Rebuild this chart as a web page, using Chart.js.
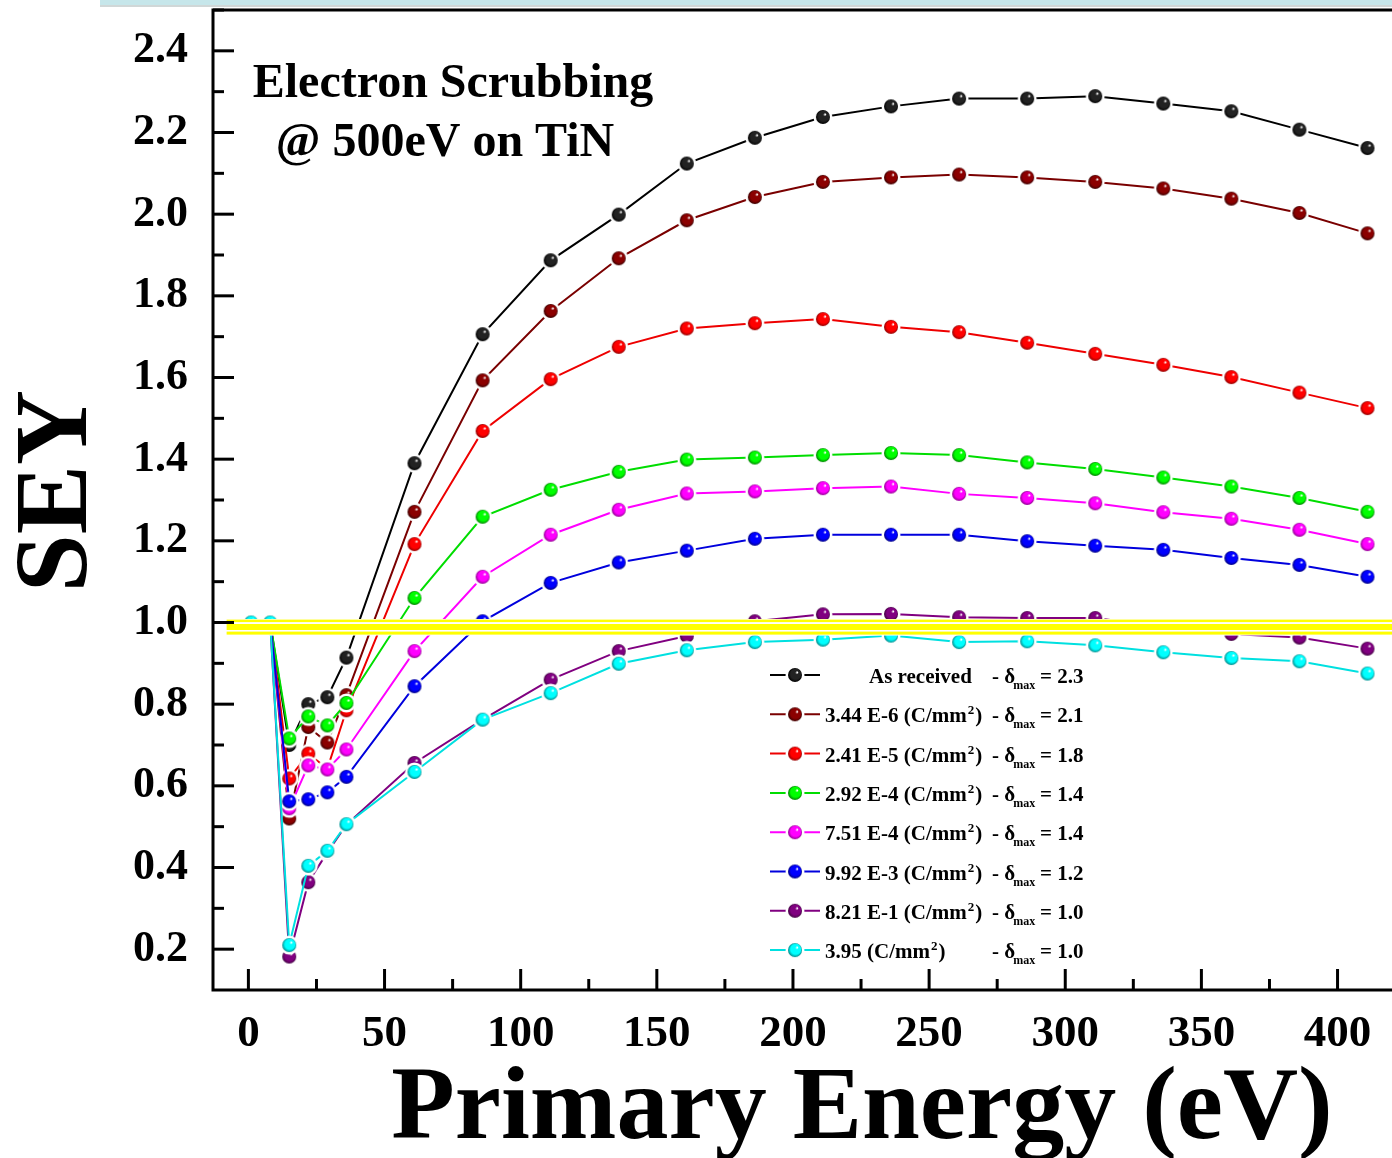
<!DOCTYPE html>
<html>
<head>
<meta charset="utf-8">
<title>SEY vs Primary Energy</title>
<script src="https://cdn.jsdelivr.net/npm/chart.js@4.4.1/dist/chart.umd.min.js"></script>
<style>
  html, body { margin: 0; padding: 0; background: #fff; overflow: hidden; }
  canvas { display: block; }
</style>
</head>
<body>
<canvas id="sey" width="1392" height="1158"></canvas>
<script>
// primary energy (eV)
const energy = [1, 8, 15, 22, 29, 36, 61, 86, 111, 136, 161, 186, 211, 236, 261, 286, 311, 336, 361, 386, 411];

// SEY per scrubbing dose
const asReceived = [1.0, 1.0, 0.700, 0.800, 0.817, 0.914, 1.390, 1.706, 1.887, 1.999, 2.124, 2.187, 2.238, 2.264, 2.283, 2.283, 2.289, 2.271, 2.252, 2.207, 2.162];
const dose344e6 = [1.0, 1.0, 0.520, 0.744, 0.706, 0.822, 1.271, 1.593, 1.763, 1.892, 1.985, 2.042, 2.079, 2.090, 2.097, 2.090, 2.079, 2.063, 2.038, 2.003, 1.953];
const dose241e5 = [1.0, 1.0, 0.618, 0.679, 0.642, 0.785, 1.192, 1.469, 1.596, 1.675, 1.720, 1.733, 1.743, 1.724, 1.711, 1.685, 1.658, 1.631, 1.601, 1.563, 1.525];
const dose292e4 = [1.0, 1.0, 0.716, 0.770, 0.748, 0.803, 1.060, 1.259, 1.325, 1.369, 1.399, 1.404, 1.410, 1.415, 1.410, 1.392, 1.376, 1.355, 1.333, 1.305, 1.271];
const dose751e4 = [1.0, 1.0, 0.545, 0.650, 0.640, 0.689, 0.930, 1.112, 1.215, 1.276, 1.316, 1.321, 1.329, 1.333, 1.315, 1.305, 1.292, 1.270, 1.254, 1.227, 1.192];
const dose992e3 = [1.0, 1.0, 0.562, 0.567, 0.584, 0.622, 0.844, 1.003, 1.097, 1.147, 1.176, 1.205, 1.215, 1.215, 1.215, 1.199, 1.188, 1.178, 1.158, 1.141, 1.112];
const dose821e1 = [1.0, 1.0, 0.182, 0.364, 0.437, 0.505, 0.656, 0.762, 0.860, 0.930, 0.967, 1.003, 1.020, 1.021, 1.013, 1.011, 1.011, 0.989, 0.972, 0.963, 0.936];
const dose395 = [1.0, 1.0, 0.210, 0.404, 0.441, 0.506, 0.634, 0.762, 0.827, 0.899, 0.932, 0.952, 0.958, 0.968, 0.952, 0.954, 0.944, 0.927, 0.913, 0.905, 0.875];

// legend text
const doseLabels = ['As received', '3.44 E-6', '2.41 E-5', '2.92 E-4', '7.51 E-4', '9.92 E-3', '8.21 E-1', '3.95'];
const deltaMax = ['2.3', '2.1', '1.8', '1.4', '1.4', '1.2', '1.0', '1.0'];

// highlighted SEY = 1 band (yellow stripes)
const bandLevels = [1.004, 0.989, 0.974];
const bandEdges = [1.0086, 0.968];
const bandStart = -8;

const seriesValues = [asReceived, dose344e6, dose241e5, dose292e4, dose751e4, dose992e3, dose821e1, dose395];
const lineColors = ['#000000', '#7a0000', '#ee0000', '#00dd00', '#ff00ff', '#0000dd', '#800080', '#00e0e0'];
const ballColors = ['#222222', '#8b0000', '#ff0000', '#00ff00', '#ff00ff', '#0000ff', '#800080', '#00ffff'];
const ballDark = ['#000000', '#3a0000', '#900000', '#008000', '#900090', '#000080', '#400040', '#008888'];

const SERIF = "'Liberation Serif', 'Times New Roman', serif";

// shaded ball with a white halo so the line stops short of it
function makeBall(color, dark) {
  const r = 7, halo = 9.5;
  const s = 22, m = s / 2;
  const c = document.createElement('canvas');
  c.width = s; c.height = s;
  const g = c.getContext('2d');
  g.fillStyle = '#fff';
  g.beginPath(); g.arc(m, m, halo, 0, Math.PI * 2); g.fill();
  const grad = g.createRadialGradient(m + r * 0.35, m - r * 0.4, 0.3, m, m, r);
  grad.addColorStop(0, '#ffffff');
  grad.addColorStop(0.22, color);
  grad.addColorStop(0.7, color);
  grad.addColorStop(1, dark);
  g.fillStyle = grad;
  g.beginPath(); g.arc(m, m, r, 0, Math.PI * 2); g.fill();
  return c;
}
const balls = ballColors.map((c, i) => makeBall(c, ballDark[i]));

const datasets = seriesValues.map((vals, i) => ({
  label: doseLabels[i],
  data: energy.map((e, k) => ({ x: e, y: vals[k] })),
  borderColor: lineColors[i],
  borderWidth: 2,
  pointStyle: balls[i],
  pointRadius: 11,
  tension: 0,
  clip: false,
  order: seriesValues.length - 1 - i
}));

const decor = {
  id: 'decor',
  beforeDraw(chart) {
    const ctx = chart.ctx;
    ctx.save();
    ctx.fillStyle = '#fff';
    ctx.fillRect(0, 0, chart.width, chart.height);
    // slide banner edge at the top
    ctx.fillStyle = '#c6e6ea';
    ctx.fillRect(100, 0, chart.width - 100, 5);
    ctx.fillStyle = 'rgba(120,140,140,0.35)';
    ctx.fillRect(100, 5, chart.width - 100, 2);
    ctx.restore();
  },
  afterDatasetsDraw(chart) {
    const ctx = chart.ctx, xs = chart.scales.x, ys = chart.scales.y, ca = chart.chartArea;
    const x0 = xs.getPixelForValue(bandStart);
    ctx.save();
    const yt = ys.getPixelForValue(bandEdges[0]), yb = ys.getPixelForValue(bandEdges[1]);
    ctx.fillStyle = '#fff';
    ctx.fillRect(x0, yt, ca.right - x0, yb - yt);
    const widths = [2.5, 6, 3];
    ctx.fillStyle = '#ffff00';
    bandLevels.forEach((v, i) => {
      const y = ys.getPixelForValue(v);
      ctx.fillRect(x0, y - widths[i] / 2, ca.right - x0, widths[i]);
    });
    ctx.restore();
  },
  afterDraw(chart) {
    const ctx = chart.ctx, xs = chart.scales.x, ys = chart.scales.y, ca = chart.chartArea;
    ctx.save();
    ctx.strokeStyle = '#000';
    ctx.lineWidth = 3;
    // axes frame: left, bottom, top
    ctx.beginPath();
    ctx.moveTo(ca.right, ca.top); ctx.lineTo(ca.left, ca.top);
    ctx.lineTo(ca.left, ca.bottom); ctx.lineTo(ca.right, ca.bottom);
    ctx.stroke();
    // inward ticks
    xs.ticks.forEach(t => {
      const px = xs.getPixelForValue(t.value);
      const len = t.value % 50 === 0 ? 21 : 11;
      ctx.beginPath(); ctx.moveTo(px, ca.bottom); ctx.lineTo(px, ca.bottom - len); ctx.stroke();
    });
    ys.ticks.forEach(t => {
      const n = Math.round(t.value * 10);
      if (n <= 1) return;
      const py = ys.getPixelForValue(t.value);
      const len = n % 2 === 0 ? 21 : 11;
      ctx.beginPath(); ctx.moveTo(ca.left, py); ctx.lineTo(ca.left + len, py); ctx.stroke();
    });

    // axis titles
    ctx.fillStyle = '#000';
    ctx.textAlign = 'center';
    ctx.textBaseline = 'alphabetic';
    ctx.font = 'bold 104px ' + SERIF;
    ctx.fillText('Primary Energy (eV)', 862, 1138);
    ctx.save();
    ctx.translate(86, 491);
    ctx.rotate(-Math.PI / 2);
    ctx.fillText('SEY', 0, 0);
    ctx.restore();

    // annotation
    ctx.font = 'bold 48px ' + SERIF;
    ctx.fillText('Electron Scrubbing', 453, 97);
    ctx.fillText('@ 500eV on TiN', 445, 156);

    // legend
    ctx.textAlign = 'left';
    doseLabels.forEach((lab, i) => {
      const cy = 675 + i * 39.3;
      ctx.strokeStyle = lineColors[i];
      ctx.lineWidth = 2;
      ctx.beginPath(); ctx.moveTo(770, cy); ctx.lineTo(820, cy); ctx.stroke();
      ctx.drawImage(balls[i], 795 - 11, cy - 11);
      const base = cy + 8;
      ctx.fillStyle = '#000';
      ctx.font = 'bold 21px ' + SERIF;
      if (i === 0) {
        ctx.fillText(lab, 869, base);
      } else {
        let x = 825;
        const t1 = lab + ' (C/mm';
        ctx.fillText(t1, x, base);
        x += ctx.measureText(t1).width + 1;
        ctx.font = 'bold 13px ' + SERIF;
        ctx.fillText('2', x, base - 8);
        x += ctx.measureText('2').width + 1;
        ctx.font = 'bold 21px ' + SERIF;
        ctx.fillText(')', x, base);
      }
      let x = 992;
      ctx.font = 'bold 21px ' + SERIF;
      ctx.fillText('- \u03b4', x, base);
      x += ctx.measureText('- \u03b4').width;
      ctx.font = 'bold 12px ' + SERIF;
      ctx.fillText('max', x - 2, base + 6);
      ctx.font = 'bold 21px ' + SERIF;
      ctx.fillText('= ' + deltaMax[i], 1040, base);
    });
    ctx.restore();
  }
};

new Chart(document.getElementById('sey'), {
  type: 'line',
  data: { datasets: datasets },
  options: {
    responsive: false,
    animation: false,
    devicePixelRatio: 1,
    layout: { autoPadding: false, padding: { top: 10, right: 0, bottom: 0, left: 0 } },
    plugins: { legend: { display: false }, tooltip: { enabled: false } },
    scales: {
      x: {
        type: 'linear',
        min: -13,
        max: 420,
        grid: { display: false, drawTicks: false },
        border: { display: false },
        ticks: {
          stepSize: 25,
          includeBounds: false,
          autoSkip: false,
          maxRotation: 0,
          padding: 17,
          color: '#000',
          font: { family: SERIF, size: 45, weight: 'bold' },
          callback: v => (v % 50 === 0 ? String(v) : '')
        },
        afterFit: s => {
          s.height = 168;
          s.paddingLeft = 0; s.paddingRight = 0; s.paddingTop = 0; s.paddingBottom = 0;
        }
      },
      y: {
        min: 0.1,
        max: 2.5,
        grid: { display: false, drawTicks: false },
        border: { display: false },
        ticks: {
          stepSize: 0.1,
          includeBounds: false,
          autoSkip: false,
          padding: 25,
          color: '#000',
          font: { family: SERIF, size: 44, weight: 'bold' },
          callback: v => (Math.round(v * 10) % 2 === 0 ? v.toFixed(1) : '')
        },
        afterFit: s => {
          s.width = 213;
          s.paddingLeft = 0; s.paddingRight = 0; s.paddingTop = 0; s.paddingBottom = 0;
        }
      }
    }
  },
  plugins: [decor]
});
</script>
</body>
</html>
